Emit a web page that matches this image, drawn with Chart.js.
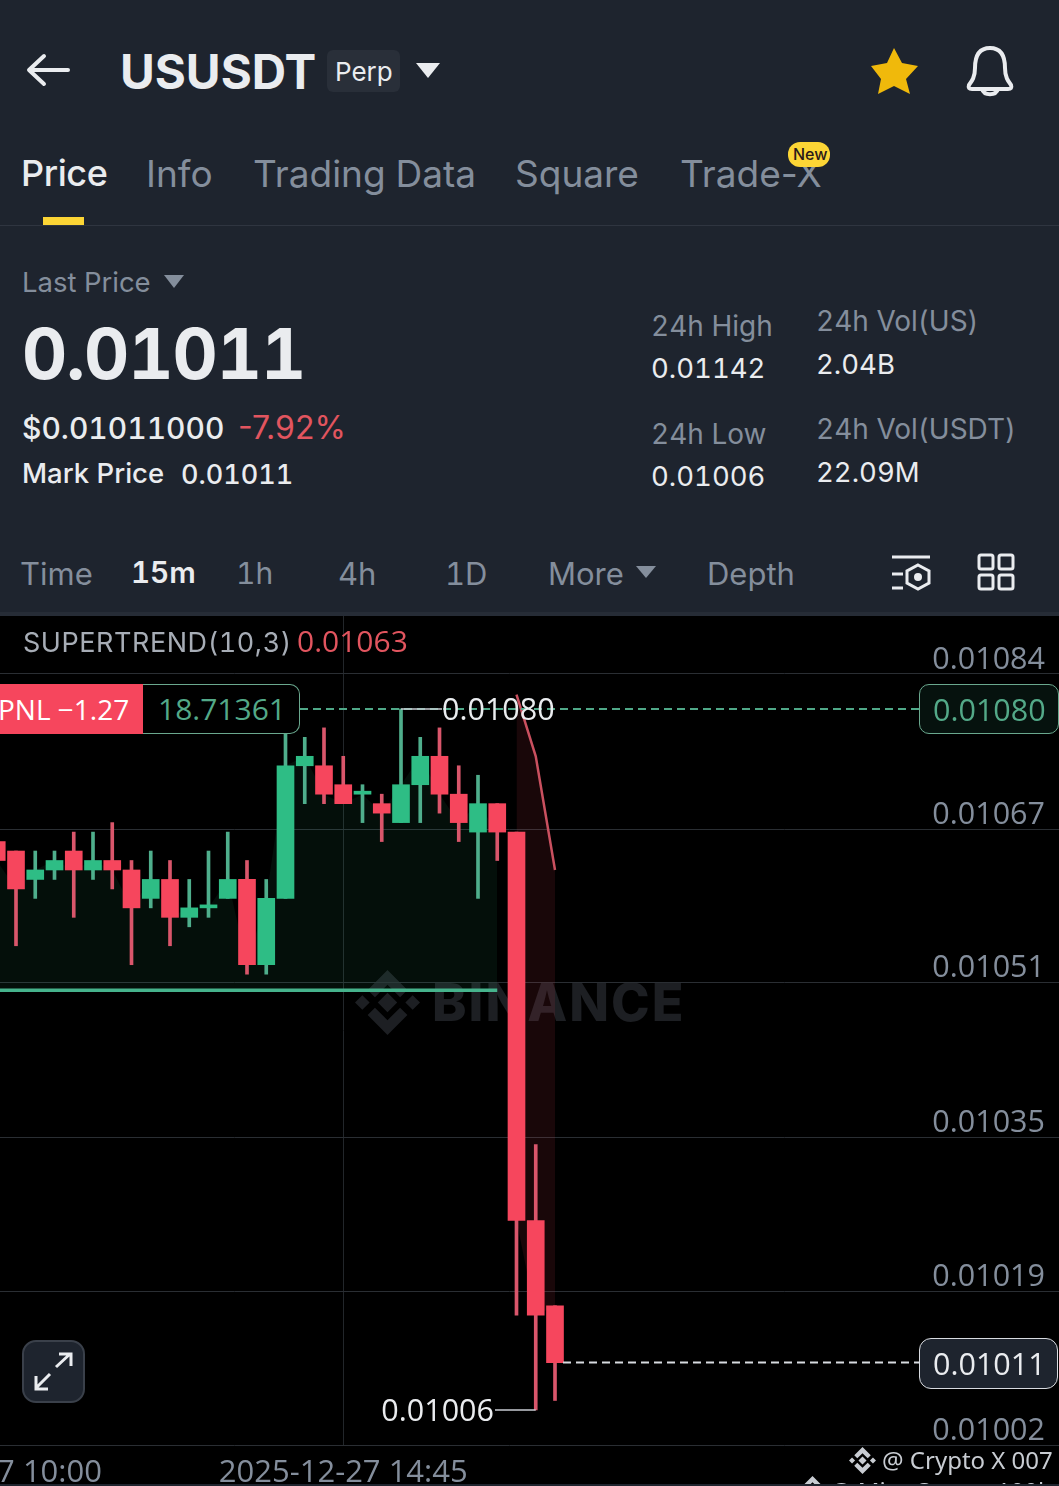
<!DOCTYPE html>
<html>
<head>
<meta charset="utf-8">
<style>
  html, body { margin: 0; padding: 0; background: #000; }
  #page { position: relative; width: 1059px; height: 1486px; overflow: hidden; background: #000; font-family: Inter, sans-serif; font-variant-numeric: tabular-nums; }
  #head { position: absolute; left: 0; top: 0; width: 1059px; height: 616px; background: #1e242e; border-bottom: 4px solid #262c36; box-sizing: border-box; }
  #rule { position: absolute; left: 0; top: 225px; width: 1059px; height: 1px; background: #2f3540; }
  .t { position: absolute; white-space: nowrap; line-height: 1; transform: translateY(-50%); }
  .prop { font-variant-numeric: normal; }
  .num { font-family: "Open Sans", sans-serif; }
  .grey { color: #848e9c; }
  .white { color: #eaecef; }
  svg { position: absolute; overflow: visible; }
  canvas { position: absolute; left: -40px; top: 616px; }
  .box { position: absolute; box-sizing: border-box; }
</style>
</head>
<body>
<div id="page">
  <div id="head">
    <svg style="left:0;top:0" width="1059" height="613" fill="none">
      <path d="M68 70H30M44 56L29 70L44 84" stroke="#eaecef" stroke-width="4" stroke-linecap="round" stroke-linejoin="round"/>
      <path d="M416 63H440L428 78Z" fill="#eaecef"/>
      <path d="M894 48L902 63L918 66L906 79L910 94L894 86L878 94L881 79L871 66L887 63Z" fill="#f0b90b"/>
      <path d="M990 48C978 48 975 58 975 68C975 77 972 81 969 85C968 88 969 89 972 89H1008C1011 89 1012 88 1011 85C1008 81 1005 77 1005 68C1005 58 1002 48 990 48Z" stroke="#eaecef" stroke-width="4"/>
      <path d="M982 89C984 96 996 96 998 89" stroke="#eaecef" stroke-width="4"/>
      <path d="M164 275H184L174 288Z" fill="#848e9c"/>
      <path d="M636 566H656L646 578Z" fill="#848e9c"/>
      <path d="M892 557H930M892 574H903M892 588H903" stroke="#eaecef" stroke-width="3"/>
      <path d="M918 565L929 571V583L918 589L907 583V571Z" stroke="#eaecef" stroke-width="3"/>
      <circle cx="918" cy="577" r="4" fill="#eaecef"/>
      <rect x="979" y="555" width="14" height="14" rx="2" stroke="#eaecef" stroke-width="3"/>
      <rect x="999" y="555" width="14" height="14" rx="2" stroke="#eaecef" stroke-width="3"/>
      <rect x="979" y="575" width="14" height="14" rx="2" stroke="#eaecef" stroke-width="3"/>
      <rect x="999" y="575" width="14" height="14" rx="2" stroke="#eaecef" stroke-width="3"/>
    </svg>
    <div class="t white" style="left:120px;top:72px;font-size:47.5px;font-weight:700">USUSDT</div>
    <div class="box" style="left:327px;top:50px;width:73px;height:42px;background:#292f39;border-radius:6px"></div>
    <div class="t white" style="left:335px;top:72px;font-size:26px">Perp</div>
    <div class="t white" style="left:21px;top:173px;font-size:36px;font-weight:500;letter-spacing:-0.4px">Price</div>
    <div class="t grey" style="left:146px;top:173px;font-size:37px">Info</div>
    <div class="t grey" style="left:253px;top:173px;font-size:37px">Trading Data</div>
    <div class="t grey" style="left:515px;top:173px;font-size:37px">Square</div>
    <div class="t grey prop" style="left:680px;top:173px;font-size:37px">Trade-X</div>
    <div class="box" style="left:788px;top:142px;width:42px;height:25px;background:#fcd535;border-radius:12px"></div>
    <div class="t" style="left:793px;top:154px;font-size:16px;font-weight:500;color:#2a1a1a">New</div>
    <div class="box" style="left:43px;top:217px;width:41px;height:8px;background:#fcd535"></div>
    <div id="rule"></div>
    <div class="t grey" style="left:22px;top:283px;font-size:27.5px">Last Price</div>
    <div class="t white" style="left:22px;top:354px;font-size:70px;font-weight:700;letter-spacing:-1px">0.01011</div>
    <div class="t white" style="left:22px;top:428px;font-size:30px;font-weight:500">$0.01011000</div>
    <div class="t prop" style="left:238px;top:428px;font-size:32px;color:#e2555f">-7.92%</div>
    <div class="t white" style="left:22px;top:474px;font-size:27.5px;font-weight:500">Mark Price</div>
    <div class="t white" style="left:181px;top:474px;font-size:27px;font-weight:500">0.01011</div>
    <div class="t grey" style="left:651px;top:326px;font-size:28px">24h High</div>
    <div class="t white" style="left:651px;top:369px;font-size:27.5px">0.01142</div>
    <div class="t grey" style="left:651px;top:434px;font-size:28px">24h Low</div>
    <div class="t white" style="left:651px;top:477px;font-size:27.5px">0.01006</div>
    <div class="t grey" style="left:816px;top:321px;font-size:28px">24h Vol(US)</div>
    <div class="t white" style="left:816px;top:365px;font-size:27.5px">2.04B</div>
    <div class="t grey" style="left:816px;top:429px;font-size:28px">24h Vol(USDT)</div>
    <div class="t white" style="left:816px;top:473px;font-size:27.5px">22.09M</div>
    <div class="t grey" style="left:20px;top:573px;font-size:31px">Time</div>
    <div class="t white" style="left:131px;top:573px;font-size:29.5px;font-weight:600">15m</div>
    <div class="t grey" style="left:236px;top:573px;font-size:30px">1h</div>
    <div class="t grey" style="left:338px;top:573px;font-size:31px">4h</div>
    <div class="t grey" style="left:445px;top:573px;font-size:31px">1D</div>
    <div class="t grey" style="left:548px;top:573px;font-size:31px">More</div>
    <div class="t grey" style="left:707px;top:573px;font-size:31px">Depth</div>
  </div>

  <svg style="left:355px;top:970px" width="65" height="65" viewBox="0 0 126 126" fill="#1d1f23">
    <path d="M38.7 53L63 28.7L87.4 53L101.6 38.8L63 .2L24.5 38.7ZM0 63L14.2 48.8L28.4 63L14.2 77.2ZM81.8 63L63 44.2L44.2 63L63 81.8ZM97.6 63L111.8 48.8L126 63L111.8 77.2ZM87.4 73L63 97.3L38.7 73L24.5 87.2L63 125.8L101.6 87.2Z"/>
  </svg>
  <div class="t" style="left:432px;top:1003px;font-size:52px;font-weight:800;color:#1d1f23;letter-spacing:2px">BINANCE</div>

  <canvas id="chart" width="1099" height="870"></canvas>

  <div class="t" style="left:23px;top:642px;font-size:27px;color:#a7adb6;letter-spacing:0.55px">SUPERTREND(10,3)</div>
  <div class="t num" style="left:297px;top:641px;font-size:30px;color:#e2555f">0.01063</div>

  <div class="box" style="left:-20px;top:684px;width:163px;height:50px;background:#f6465d"></div>
  <div class="t num" style="left:-2px;top:709px;font-size:28px;color:#fff">PNL −1.27</div>
  <div class="box" style="left:143px;top:684px;width:157px;height:50px;background:#000;border:1px solid #6aa88e;border-left:0;border-radius:0 10px 10px 0"></div>
  <div class="t num" style="left:158px;top:709px;font-size:30px;color:#53a988">18.71361</div>
  <div class="box" style="left:919px;top:684px;width:140px;height:50px;background:#06120e;border:1px solid #6aa88e;border-radius:10px"></div>
  <div class="t num" style="left:933px;top:709px;font-size:30.5px;color:#53a988">0.01080</div>
  <div class="box" style="left:919px;top:1338px;width:139px;height:51px;background:#1e242e;border:1px solid #d8dbe0;border-radius:12px"></div>
  <div class="t white num" style="left:933px;top:1363px;font-size:30.5px">0.01011</div>

  <div class="box" style="left:22px;top:1340px;width:63px;height:63px;background:#1e242e;border:2px solid #3a404a;border-radius:14px"></div>
  <svg style="left:0;top:0" width="100" height="1486" fill="none">
    <path d="M56 1367L70 1354M59 1354H71V1366M50 1374L36 1388M36 1376V1389H48" stroke="#eaecef" stroke-width="3"/>
  </svg>

  <svg style="left:849px;top:1447px" width="27" height="27" viewBox="0 0 126 126" fill="#c8ccd2">
    <path d="M38.7 53L63 28.7L87.4 53L101.6 38.8L63 .2L24.5 38.7ZM0 63L14.2 48.8L28.4 63L14.2 77.2ZM81.8 63L63 44.2L44.2 63L63 81.8ZM97.6 63L111.8 48.8L126 63L111.8 77.2ZM87.4 73L63 97.3L38.7 73L24.5 87.2L63 125.8L101.6 87.2Z"/>
  </svg>
  <div class="t" style="left:882px;top:1460px;font-size:24px;color:#c8ccd2;font-family:'Noto Sans'">@ Crypto X 007</div>
  <svg style="left:799px;top:1476px" width="27" height="27" viewBox="0 0 126 126" fill="#c8ccd2">
    <path d="M38.7 53L63 28.7L87.4 53L101.6 38.8L63 .2L24.5 38.7ZM0 63L14.2 48.8L28.4 63L14.2 77.2ZM81.8 63L63 44.2L44.2 63L63 81.8ZM97.6 63L111.8 48.8L126 63L111.8 77.2ZM87.4 73L63 97.3L38.7 73L24.5 87.2L63 125.8L101.6 87.2Z"/>
  </svg>
  <div class="t" style="left:830px;top:1491px;font-size:24px;color:#c8ccd2;font-family:'Noto Sans'">@ Miss Queen 100k</div>
  <div class="box" style="left:0;top:1484px;width:1059px;height:2px;background:#1e242e"></div>
</div>

<script src="https://cdn.jsdelivr.net/npm/chart.js@4/dist/chart.umd.js"></script>
<script>
const UP = "#2ebd85"
const DOWN = "#f6465d"
const UP_WICK = "#4fae8c"
const DOWN_WICK = "#d9566b"

// 15m candles, first one opens at 10:15
const opens  = [0.01066, 0.01065, 0.01062, 0.01063, 0.01065, 0.01063, 0.01064, 0.01063, 0.01060, 0.01062, 0.01058, 0.01059, 0.01060, 0.01062, 0.01053, 0.01060, 0.01074, 0.01074, 0.01072, 0.01071, 0.01070, 0.01068, 0.01072, 0.01075, 0.01071, 0.01067, 0.01070, 0.01067, 0.01026, 0.01017]
const highs  = [0.01066, 0.01065, 0.01065, 0.01065, 0.01067, 0.01067, 0.01068, 0.01064, 0.01065, 0.01064, 0.01062, 0.01065, 0.01067, 0.01064, 0.01062, 0.01078, 0.01077, 0.01078, 0.01075, 0.01072, 0.01071, 0.01080, 0.01077, 0.01078, 0.01074, 0.01073, 0.01070, 0.01067, 0.01034, 0.01017]
const lows   = [0.01064, 0.01055, 0.01060, 0.01062, 0.01058, 0.01062, 0.01061, 0.01053, 0.01059, 0.01055, 0.01057, 0.01058, 0.01060, 0.01052, 0.01052, 0.01060, 0.01070, 0.01070, 0.01070, 0.01068, 0.01066, 0.01068, 0.01068, 0.01069, 0.01066, 0.01060, 0.01064, 0.01016, 0.01006, 0.01007]
const closes = [0.01064, 0.01061, 0.01063, 0.01064, 0.01063, 0.01064, 0.01063, 0.01059, 0.01062, 0.01058, 0.01059, 0.01059, 0.01062, 0.01053, 0.01060, 0.01074, 0.01075, 0.01071, 0.01070, 0.01071, 0.01069, 0.01072, 0.01075, 0.01071, 0.01068, 0.01070, 0.01067, 0.01026, 0.01016, 0.01011]

// supertrend: green support under the first 27 candles, red band over the last 3
const supertrendUp = [0.010503, 0.010503, 0.010503, 0.010503, 0.010503, 0.010503, 0.010503, 0.010503, 0.010503, 0.010503, 0.010503, 0.010503, 0.010503, 0.010503, 0.010503, 0.010503, 0.010503, 0.010503, 0.010503, 0.010503, 0.010503, 0.010503, 0.010503, 0.010503, 0.010503, 0.010503, 0.010503]
const supertrendDown = [0.010815, 0.01075, 0.01063]
const downBandBase = [0.01026, 0.01016, 0.01017]

const yTicks = [0.010837, 0.010673, 0.010511, 0.010348, 0.0101855, 0.010023]
const xTickSlots = [-1, 18]
const xTickLabels = ["2025-12-27 10:00", "2025-12-27 14:45"]

const lastPrice = 0.01011
const entryPrice = 0.0108
const highMark = 0.0108
const lowMark = 0.01006

const points = (vals, first = 0) => vals.map((y, i) => ({ x: first + i, y }))
const isUp = opens.map((o, i) => closes[i] >= o)

const priceLines = {
  id: "priceLines",
  afterDatasetsDraw(chart) {
    const { ctx, scales: { x, y } } = chart
    const left = 40
    ctx.save()
    ctx.lineWidth = 2
    ctx.setLineDash([8, 5])
    ctx.strokeStyle = "#4fa888"
    ctx.beginPath()
    ctx.moveTo(300 + left, y.getPixelForValue(entryPrice))
    ctx.lineTo(919 + left, y.getPixelForValue(entryPrice))
    ctx.stroke()
    ctx.strokeStyle = "#d8dbe0"
    ctx.beginPath()
    ctx.moveTo(x.getPixelForValue(29) + 8, y.getPixelForValue(lastPrice))
    ctx.lineTo(919 + left, y.getPixelForValue(lastPrice))
    ctx.stroke()

    // high and low markers
    ctx.setLineDash([])
    ctx.lineWidth = 1.5
    ctx.strokeStyle = "#c8ccd2"
    ctx.beginPath()
    ctx.moveTo(x.getPixelForValue(21), y.getPixelForValue(highMark))
    ctx.lineTo(442 + left, y.getPixelForValue(highMark))
    ctx.moveTo(x.getPixelForValue(28), y.getPixelForValue(lowMark))
    ctx.lineTo(495 + left, y.getPixelForValue(lowMark))
    ctx.stroke()

    ctx.fillStyle = "#eaecef"
    ctx.font = "30.5px 'Open Sans'"
    ctx.textBaseline = "middle"
    ctx.textAlign = "left"
    ctx.fillText(highMark.toFixed(5), 442 + left, y.getPixelForValue(highMark) + 2)
    ctx.textAlign = "right"
    ctx.fillText(lowMark.toFixed(5), 494 + left, y.getPixelForValue(lowMark) + 2)
    ctx.restore()
  }
}

new Chart(document.getElementById("chart"), {
  type: "bar",
  plugins: [priceLines],
  data: {
    datasets: [
      { type: "line", data: points(closes.slice(0, 27)), borderWidth: 0, pointRadius: 0, fill: false, order: 10 },
      { type: "line", data: points(supertrendUp), borderColor: "#46b38c", borderWidth: 3.5, pointRadius: 0,
        fill: { target: 0 }, backgroundColor: "rgba(46,189,133,0.08)", order: 9 },
      { type: "line", data: points(downBandBase, 27), borderWidth: 0, pointRadius: 0, fill: false, order: 10 },
      { type: "line", data: points(supertrendDown, 27), borderColor: "#c9505f", borderWidth: 2.5, pointRadius: 0,
        fill: { target: 2 }, backgroundColor: "rgba(246,70,93,0.1)", order: 9 },
      { data: lows.map((l, i) => ({ x: i, y: [l, highs[i]] })), backgroundColor: isUp.map(u => u ? UP_WICK : DOWN_WICK),
        barThickness: 3, grouped: false, order: 2 },
      { data: opens.map((o, i) => ({ x: i, y: [o, closes[i]] })), backgroundColor: isUp.map(u => u ? UP : DOWN),
        barThickness: 17, minBarLength: 3, grouped: false, order: 1 }
    ]
  },
  options: {
    responsive: false,
    animation: false,
    devicePixelRatio: 1,
    layout: { padding: 0 },
    plugins: { legend: { display: false }, tooltip: { enabled: false } },
    scales: {
      x: {
        type: "linear",
        offset: false,
        min: (-40 + 3.25) / 19.25,
        max: (1059 + 3.25) / 19.25,
        afterBuildTicks: ax => { ax.ticks = xTickSlots.map(value => ({ value })) },
        afterFit: ax => { ax.height = 41; ax.paddingLeft = 0; ax.paddingRight = 0 },
        grid: { color: "#22262a", drawTicks: false, offset: false },
        border: { display: false },
        ticks: {
          autoSkip: false, maxRotation: 0, padding: 10, color: "#848e9c",
          font: { family: "Open Sans", size: 31 },
          callback: v => xTickLabels[xTickSlots.indexOf(v)]
        }
      },
      y: {
        type: "linear",
        position: "right",
        min: 0.010023,
        max: 0.0108981,
        afterBuildTicks: ax => { ax.ticks = yTicks.map(value => ({ value })) },
        afterFit: ax => { ax.width = 0; ax.paddingTop = 0; ax.paddingBottom = 0 },
        grid: { color: "#2a2e33", drawTicks: false },
        border: { display: false },
        ticks: {
          mirror: true, padding: -14, labelOffset: -14, color: "#848e9c",
          font: { family: "Open Sans", size: 30.5 },
          callback: v => v.toFixed(5)
        }
      }
    }
  }
})
</script>
</body>
</html>
